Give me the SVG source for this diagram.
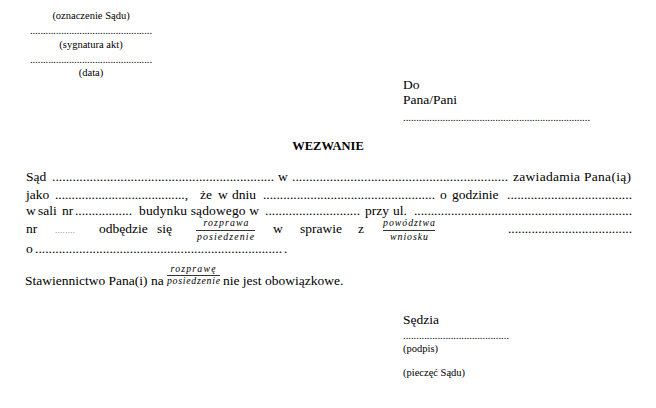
<svg xmlns="http://www.w3.org/2000/svg" width="656" height="408" viewBox="0 0 656 408" font-family="'Liberation Serif', 'DejaVu Serif', serif">
<style>
text{font-family:'Liberation Serif','DejaVu Serif',serif;fill:#000}
.m{font-size:13.5px}
.s{font-size:10.5px}
.f{font-size:9.8px;font-style:italic}
.b{font-size:12.5px;font-weight:bold}
.g{font-size:9px;fill:#777}
.bar{stroke:#000;stroke-width:0.8}
</style>
<rect width="656" height="408" fill="#fff"/>
<g id="header-left">
<text class="s" x="91" y="19" text-anchor="middle">(oznaczenie Sądu)</text>
<text class="s" x="30" y="34" textLength="122" lengthAdjust="spacing">...............................................</text>
<text class="s" x="91" y="48" text-anchor="middle">(sygnatura akt)</text>
<text class="s" x="30" y="63" textLength="122" lengthAdjust="spacing">...............................................</text>
<text class="s" x="91" y="76" text-anchor="middle">(data)</text>
</g>
<g id="addressee">
<text class="m" x="403" y="89">Do</text>
<text class="m" x="403" y="104">Pana/Pani</text>
<text class="s" x="403" y="121" textLength="187" lengthAdjust="spacing">.......................................................................</text>
</g>
<g id="title">
<text class="b" x="328" y="150" text-anchor="middle">WEZWANIE</text>
</g>
<g id="body">
<text class="m" x="26" y="181">Sąd</text>
<text class="m" x="52" y="181" textLength="222" lengthAdjust="spacing">.................................................................</text>
<text class="m" x="278" y="181">w</text>
<text class="m" x="292" y="181" textLength="216" lengthAdjust="spacing">...............................................................</text>
<text class="m" x="513" y="181" textLength="118" lengthAdjust="spacing">zawiadamia Pana(ią)</text>

<text class="m" x="26" y="198.5">jako</text>
<text class="m" x="55" y="198.5" textLength="133" lengthAdjust="spacing">.......................................,</text>
<text class="m" x="200" y="198.5">że</text>
<text class="m" x="218" y="198.5">w</text>
<text class="m" x="232" y="198.5">dniu</text>
<text class="m" x="263" y="198.5" textLength="172" lengthAdjust="spacing">...................................................</text>
<text class="m" x="440" y="198.5">o</text>
<text class="m" x="452" y="198.5">godzinie</text>
<text class="m" x="507" y="198.5" textLength="125" lengthAdjust="spacing">.....................................</text>

<text class="m" x="26" y="215">w</text>
<text class="m" x="38" y="215">sali</text>
<text class="m" x="62" y="215">nr</text>
<text class="m" x="75" y="215" textLength="57" lengthAdjust="spacing">.................</text>
<text class="m" x="139" y="215" textLength="120" lengthAdjust="spacing">budynku sądowego w</text>
<text class="m" x="265" y="215" textLength="95" lengthAdjust="spacing">............................</text>
<text class="m" x="365" y="215">przy</text>
<text class="m" x="393" y="215">ul.</text>
<text class="m" x="414" y="215" textLength="218" lengthAdjust="spacing">.................................................................</text>

<text class="m" x="26" y="233">nr</text>
<text class="g" x="55" y="233" textLength="20" lengthAdjust="spacing">........</text>
<text class="m" x="99" y="233">odbędzie</text>
<text class="m" x="157" y="233">się</text>
<text class="f" x="226" y="225.5" text-anchor="middle" textLength="45" lengthAdjust="spacing">rozprawa</text>
<line class="bar" x1="196" y1="230.5" x2="255" y2="230.5"/>
<text class="f" x="225.5" y="239.5" text-anchor="middle" textLength="57" lengthAdjust="spacing">posiedzenie</text>
<text class="m" x="273" y="233">w</text>
<text class="m" x="300" y="233">sprawie</text>
<text class="m" x="358" y="233">z</text>
<text class="f" x="409" y="225.5" text-anchor="middle" textLength="52" lengthAdjust="spacing">powództwa</text>
<line class="bar" x1="383" y1="230.5" x2="435" y2="230.5"/>
<text class="f" x="409" y="239.5" text-anchor="middle" textLength="38" lengthAdjust="spacing">wniosku</text>
<text class="m" x="508" y="233" textLength="124" lengthAdjust="spacing">.....................................</text>

<text class="m" x="26" y="253">o</text>
<text class="m" x="35" y="253" textLength="247" lengthAdjust="spacing">.........................................................................</text>
<text class="m" x="284" y="253">.</text>

<text class="m" x="25" y="285">Stawiennictwo Pana(i) na</text>
<text class="f" x="193" y="272" text-anchor="middle" textLength="45" lengthAdjust="spacing">rozprawę</text>
<line class="bar" x1="167" y1="275.5" x2="220" y2="275.5"/>
<text class="f" x="193.5" y="284" text-anchor="middle" textLength="53" lengthAdjust="spacing">posiedzenie</text>
<text class="m" x="223" y="285">nie jest obowiązkowe.</text>
</g>
<g id="signature">
<text class="m" x="403" y="324">Sędzia</text>
<text class="s" x="403" y="339" textLength="106" lengthAdjust="spacing">........................................</text>
<text class="s" x="403" y="352">(podpis)</text>
<text class="s" x="403" y="376">(pieczęć Sądu)</text>
</g>
</svg>
